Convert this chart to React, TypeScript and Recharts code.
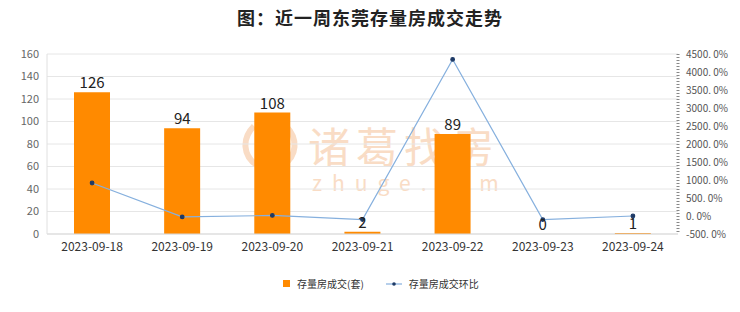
import React from 'react';
import {
  ComposedChart, Bar, Line, XAxis, YAxis, CartesianGrid, LabelList,
} from 'recharts';

const dates = ['2023-09-18', '2023-09-19', '2023-09-20', '2023-09-21', '2023-09-22', '2023-09-23', '2023-09-24'];
const deals = [126, 94, 108, 2, 89, 0, 1];
const ratios = [916, -25.4, 14.9, -98.1, 4350, -100, 0];
const leftTicks = [0, 20, 40, 60, 80, 100, 120, 140, 160];
const rightTicks = [-500, 0, 500, 1000, 1500, 2000, 2500, 3000, 3500, 4000, 4500];

const data = dates.map((d, i) => ({ date: d, deals: deals[i], ratio: ratios[i] }));

const FONT = '"Noto Sans CJK SC", "Noto Sans", sans-serif';
const WM = '#f9dcc5';

export default function App() {
  return (
    <div style={{ position: 'fixed', left: 0, top: 0, width: 740, height: 312, background: '#fff', fontFamily: FONT }}>
      <div style={{ position: 'absolute', top: 4, width: 740, textAlign: 'center', fontSize: 18, fontWeight: 700, color: '#222', letterSpacing: 1 }}>
        图：近一周东莞存量房成交走势
      </div>
      {/* watermark, sits behind the chart */}
      <svg width={60} height={50} style={{ position: 'absolute', left: 240, top: 120 }}>
        <path d="M14 6 C2 18 2 36 18 46" fill="none" stroke={WM} strokeWidth={6} />
        <path d="M46 6 C58 18 58 36 42 46" fill="none" stroke={WM} strokeWidth={6} />
        <path d="M30 8 C22 20 22 34 30 44 C38 34 38 20 30 8 Z" fill={WM} />
      </svg>
      <div style={{ position: 'absolute', left: 308, top: 124, color: WM, fontSize: 42, lineHeight: 1, letterSpacing: 6 }}>
        诸葛找房
      </div>
      <div style={{ position: 'absolute', left: 312, top: 172, color: WM, fontSize: 21, lineHeight: 1, letterSpacing: 10 }}>
        zhuge.com
      </div>
      <ComposedChart
        width={740}
        height={312}
        data={data}
        margin={{ top: 54, right: 0, bottom: 58, left: 0 }}
        style={{ position: 'absolute', left: 0, top: 0 }}
      >
        <CartesianGrid yAxisId="left" vertical={false} stroke="#e6e6e6" />
        <XAxis
          dataKey="date"
          height={20}
          tickLine={false}
          axisLine={{ stroke: '#d9d9d9' }}
          tick={{ fontSize: 12, fill: '#333', fontFamily: FONT }}
          interval={0}
        />
        <YAxis
          yAxisId="left"
          width={47}
          domain={[0, 160]}
          ticks={leftTicks}
          interval={0}
          tickLine={false}
          axisLine={{ stroke: '#e0e0e0' }}
          tick={{ fontSize: 11, fill: '#666', fontFamily: FONT }}
        />
        <YAxis
          yAxisId="right"
          orientation="right"
          width={62}
          domain={[-500, 4500]}
          ticks={rightTicks}
          interval={0}
          tickLine={false}
          axisLine={{ stroke: '#888', strokeDasharray: '1 2', strokeWidth: 3 }}
          tick={{ fontSize: 10, fill: '#555', fontFamily: FONT, textAnchor: 'start' }}
          tickFormatter={(v: number) => `${v}. 0%`}
        />
        <Bar yAxisId="left" dataKey="deals" fill="#ff8a00" barSize={36} isAnimationActive={false} />
        {/* invisible series that carries the value labels, so 0 still gets one */}
        <Line
          yAxisId="left"
          dataKey="deals"
          stroke="none"
          dot={false}
          activeDot={false}
          isAnimationActive={false}
        >
          <LabelList dataKey="deals" position="top" offset={4} style={{ fontSize: 15, fill: '#222', fontFamily: FONT }} />
        </Line>
        <Line
          yAxisId="right"
          dataKey="ratio"
          stroke="#86b0de"
          strokeWidth={1.2}
          dot={{ r: 1.8, fill: '#1e3a66', stroke: '#1e3a66' }}
          isAnimationActive={false}
        />
      </ComposedChart>
      <div style={{ position: 'absolute', top: 276, left: 283, display: 'flex', alignItems: 'center', fontSize: 10, color: '#333' }}>
        <span style={{ width: 7, height: 7, background: '#ff8a00', display: 'inline-block', marginRight: 7 }} />
        <span>存量房成交(套)</span>
        <svg width={16} height={8} style={{ marginLeft: 22, marginRight: 7 }}>
          <line x1={0} y1={4} x2={16} y2={4} stroke="#86b0de" strokeWidth={1.2} />
          <circle cx={8} cy={4} r={1.8} fill="#1e3a66" />
        </svg>
        <span>存量房成交环比</span>
      </div>
    </div>
  );
}
